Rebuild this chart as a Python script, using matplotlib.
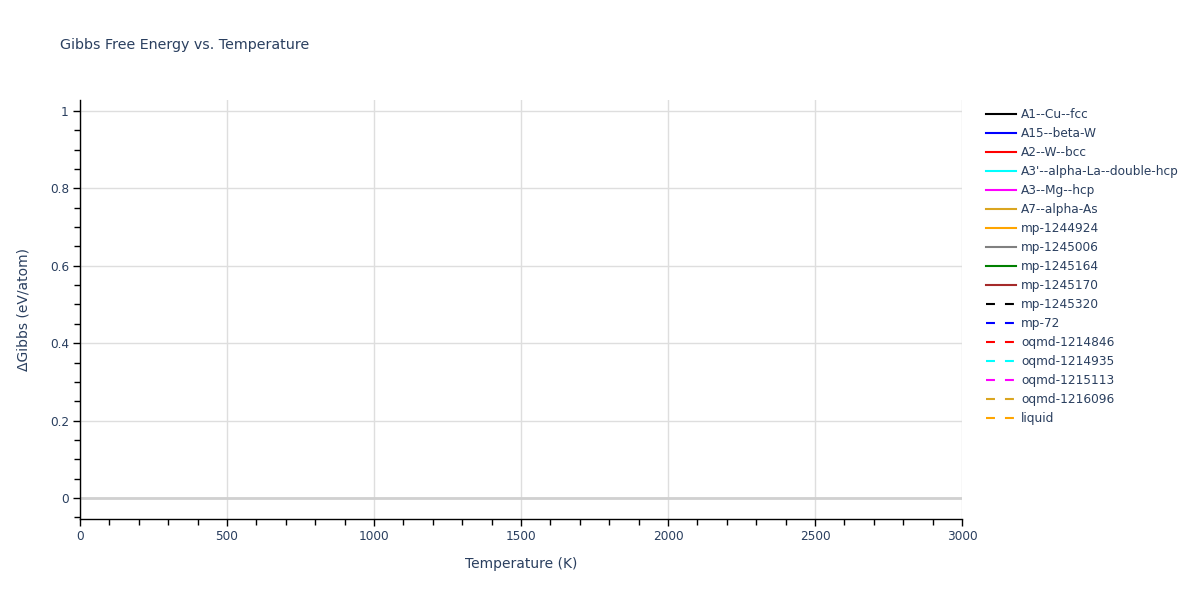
import matplotlib
matplotlib.use("Agg")
import matplotlib.pyplot as plt
from matplotlib.ticker import MultipleLocator

plt.rcParams['font.family'] = ['DejaVu Sans']

TXT = '#2a3f5f'

# Series (no visible data points in the reference: all traces empty)
names = ["A1--Cu--fcc", "A15--beta-W", "A2--W--bcc", "A3'--alpha-La--double-hcp",
         "A3--Mg--hcp", "A7--alpha-As", "mp-1244924", "mp-1245006", "mp-1245164",
         "mp-1245170", "mp-1245320", "mp-72", "oqmd-1214846", "oqmd-1214935",
         "oqmd-1215113", "oqmd-1216096", "liquid"]
colors = ["black", "blue", "red", "cyan", "magenta", "goldenrod", "orange", "gray",
          "green", "brown", "black", "blue", "red", "cyan", "magenta", "goldenrod", "orange"]
dashed = [False] * 10 + [True] * 7
temperature = []
gibbs = [[] for _ in names]

x_ticks = [0, 500, 1000, 1500, 2000, 2500, 3000]
y_ticks = [0, 0.2, 0.4, 0.6, 0.8, 1.0]

fig = plt.figure(figsize=(12, 6), dpi=100)
ax = fig.add_axes([80/1200, 1 - 519/600, (962 - 80)/1200, (519 - 100)/600])

for name, c, d, g in zip(names, colors, dashed, gibbs):
    ax.plot(temperature, g, color=c, lw=1.5,
            linestyle=(0, (4.3, 4.8)) if d else '-', label=name)

ax.set_xlim(0, 3000)
ax.set_ylim(-0.054, 1.028)
ax.set_xticks(x_ticks)
ax.set_yticks(y_ticks)
ax.set_yticklabels(['0', '0.2', '0.4', '0.6', '0.8', '1'])
ax.xaxis.set_minor_locator(MultipleLocator(100))
ax.yaxis.set_minor_locator(MultipleLocator(0.05))
ax.grid(True, which='major', color='#dedede', lw=1)
ax.set_axisbelow(True)
ax.axhline(0, color='#d0d0d0', lw=2, zorder=1)

for s in ['top', 'right']:
    ax.spines[s].set_visible(False)
for s in ['left', 'bottom']:
    ax.spines[s].set_color('black')
    ax.spines[s].set_linewidth(1)

ax.tick_params(axis='both', which='major', length=5, color='black',
               labelcolor=TXT, labelsize=8.7, width=1, pad=3)
ax.tick_params(axis='both', which='minor', length=4, color='black', width=1)

ax.set_xlabel('Temperature (K)', fontsize=10, color=TXT, labelpad=10)
ax.set_ylabel('ΔGibbs (eV/atom)', fontsize=10, color=TXT, labelpad=14)

fig.text(60/1200, 1 - 45/600, 'Gibbs Free Energy vs. Temperature',
         fontsize=10.3, color=TXT, va='center', ha='left')

leg = ax.legend(loc='upper left', bbox_to_anchor=(986/1200, 1 - 108/600),
                bbox_transform=fig.transFigure, frameon=False,
                fontsize=8.7, labelcolor=TXT, handlelength=2.5,
                handletextpad=0.42, labelspacing=0.497, borderaxespad=0,
                borderpad=0)

fig.savefig('out.png', dpi=100)
